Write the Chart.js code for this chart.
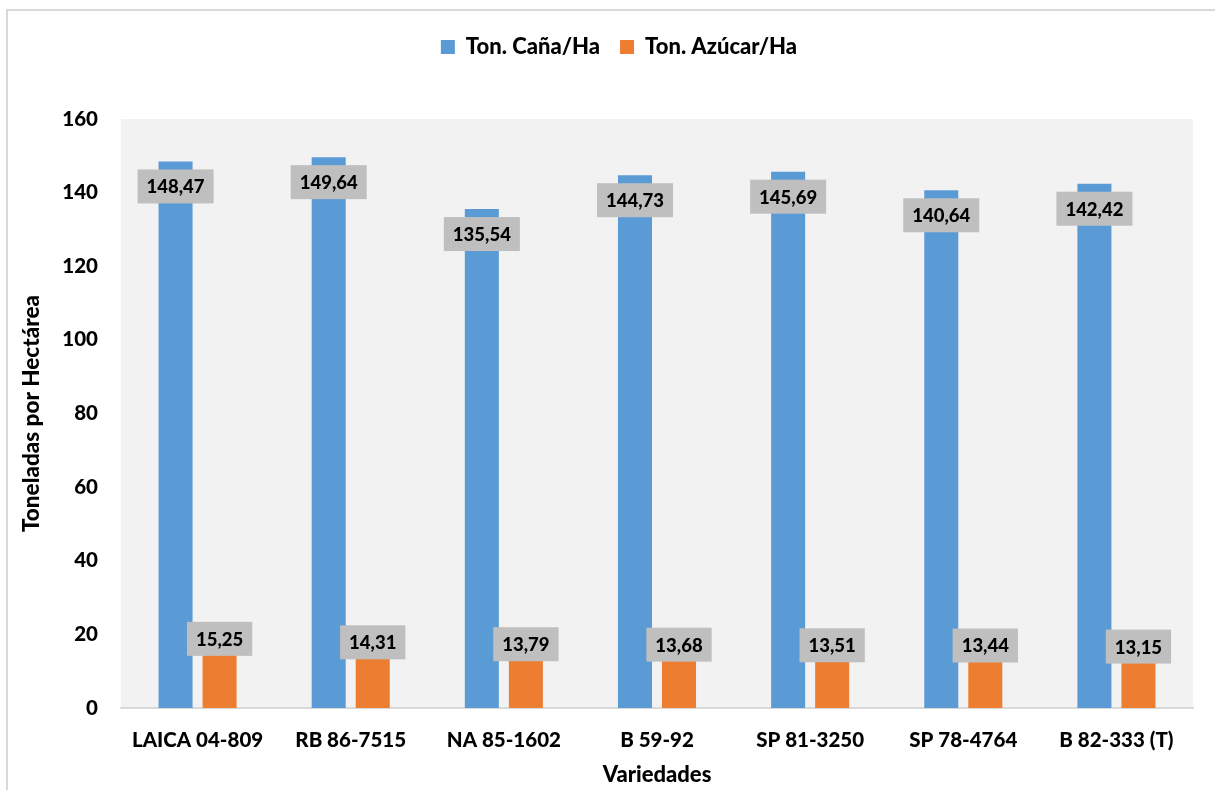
<!DOCTYPE html>
<html>
<head>
<meta charset="utf-8">
<script src="https://cdn.jsdelivr.net/npm/chart.js@4.4.1/dist/chart.umd.min.js"></script>
<style>
  html, body { margin: 0; padding: 0; background: #fff; }
  #wrap { width: 1215px; height: 790px; position: relative; }
</style>
</head>
<body>
<div id="wrap"><canvas id="chart"></canvas></div>
<script>
const varieties = ['LAICA 04-809', 'RB 86-7515', 'NA 85-1602', 'B 59-92', 'SP 81-3250', 'SP 78-4764', 'B 82-333 (T)'];
const tonCana = [148.47, 149.64, 135.54, 144.73, 145.69, 140.64, 142.42];
const tonAzucar = [15.25, 14.31, 13.79, 13.68, 13.51, 13.44, 13.15];
const yTicks = [0, 20, 40, 60, 80, 100, 120, 140, 160];

const FONT = 'Lato, "Noto Sans", sans-serif';

// outer frame + grey plot area
const background = {
    id: 'background',
    beforeDraw(chart) {
        const ctx = chart.ctx;
        const a = chart.chartArea;
        ctx.save();
        ctx.strokeStyle = '#d9d9d9';
        ctx.lineWidth = 2;
        ctx.strokeRect(7, 10, 1220, 800);
        ctx.fillStyle = '#f2f2f2';
        ctx.fillRect(a.left, a.top, a.right - a.left, a.bottom - a.top);
        ctx.restore();
    }
};

// extra room under the legend, and nudge it a bit right
const legendGap = {
    id: 'legendGap',
    afterInit(chart) {
        const fit = chart.legend.fit;
        chart.legend.fit = function () {
            fit.call(this);
            this.height += 51;
        };
    },
    afterLayout(chart) {
        chart.legend.left += 30;
    }
};

// grey value boxes like the excel labels
const valueBoxes = {
    id: 'valueBoxes',
    afterDatasetsDraw(chart) {
        const ctx = chart.ctx;
        ctx.save();
        ctx.font = '900 18.5px ' + FONT;
        ctx.textAlign = 'center';
        ctx.textBaseline = 'middle';
        chart.data.datasets.forEach((ds, i) => {
            const meta = chart.getDatasetMeta(i);
            meta.data.forEach((bar, j) => {
                const txt = ds.data[j].toFixed(2).replace('.', ',');
                const w = ctx.measureText(txt).width + 18;
                const h = 34;
                const cy = i === 0 ? bar.y + 25 : bar.y - 13;
                ctx.fillStyle = '#bfbfbf';
                ctx.fillRect(bar.x - w / 2, cy - h / 2, w, h);
                ctx.fillStyle = '#000';
                ctx.fillText(txt, bar.x, cy + 1);
            });
        });
        ctx.restore();
    }
};

const ctx = document.getElementById('chart');
const chart = new Chart(ctx, {
    type: 'bar',
    data: {
        labels: varieties,
        datasets: [{
            label: 'Ton. Caña/Ha',
            data: tonCana,
            backgroundColor: '#5b9bd5',
            borderWidth: 0,
            categoryPercentage: 0.575,
            barPercentage: 0.773
        }, {
            label: 'Ton. Azúcar/Ha',
            data: tonAzucar,
            backgroundColor: '#ed7d31',
            borderWidth: 0,
            categoryPercentage: 0.575,
            barPercentage: 0.773
        }]
    },
    options: {
        responsive: true,
        maintainAspectRatio: false,
        animation: false,
        layout: {
            padding: { left: 15, right: 22, top: 16, bottom: 2 }
        },
        plugins: {
            legend: {
                position: 'top',
                labels: {
                    color: '#000',
                    font: { family: FONT, size: 22, weight: '900' },
                    boxWidth: 14,
                    boxHeight: 14,
                    padding: 20
                }
            },
            tooltip: { enabled: false }
        },
        scales: {
            x: {
                grid: { display: false },
                border: { display: true, color: '#d9d9d9', width: 2 },
                ticks: {
                    color: '#000',
                    font: { family: FONT, size: 20.5, weight: '900' },
                    padding: 12,
                    maxRotation: 0
                },
                title: {
                    display: true,
                    text: 'Variedades',
                    color: '#000',
                    font: { family: FONT, size: 22, weight: '900' },
                    padding: { top: 0, bottom: 0 }
                },
                afterFit(scale) { scale.height = 80; }
            },
            y: {
                min: 0,
                max: 160,
                afterBuildTicks(scale) { scale.ticks = yTicks.map(v => ({ value: v })); },
                grid: { display: false, drawTicks: false },
                border: { display: false },
                ticks: {
                    color: '#000',
                    font: { family: FONT, size: 20.5, weight: '900' },
                    padding: 23
                },
                title: {
                    display: true,
                    text: 'Toneladas por Hectárea',
                    color: '#000',
                    font: { family: FONT, size: 22.5, weight: '900' },
                    padding: { top: 3, bottom: 0 }
                },
                afterFit(scale) { scale.width = 106; }
            }
        }
    },
    plugins: [background, legendGap, valueBoxes]
});
</script>
</body>
</html>
